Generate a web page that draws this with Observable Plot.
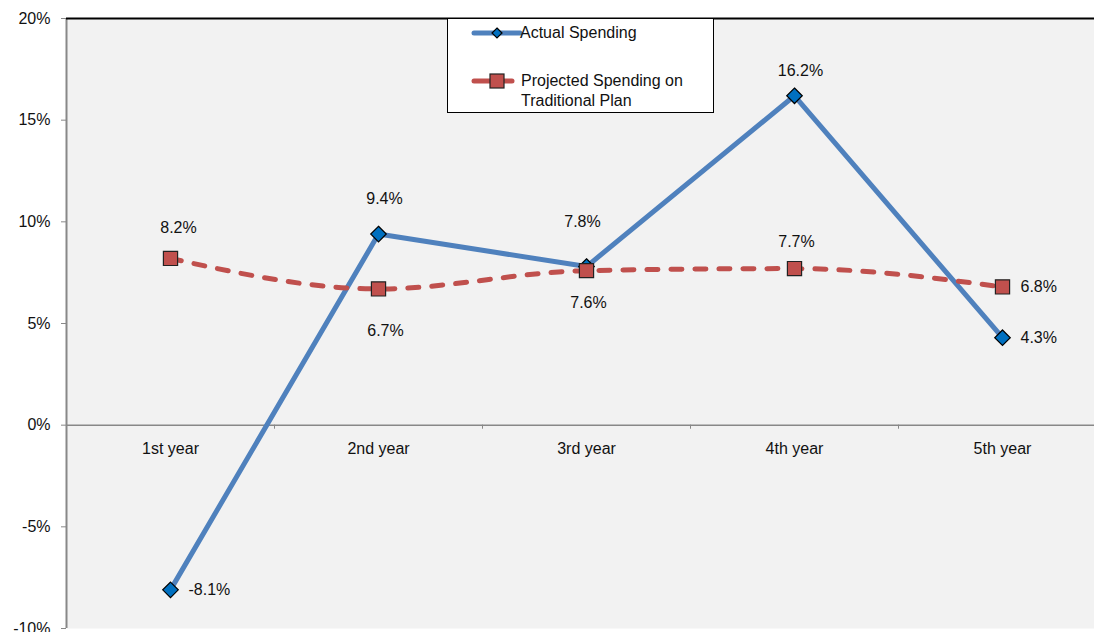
<!DOCTYPE html>
<html>
<head>
<meta charset="utf-8">
<script src="https://cdn.jsdelivr.net/npm/d3@7"></script>
<script src="https://cdn.jsdelivr.net/npm/@observablehq/plot@0.6"></script>
<style>
  html, body { margin: 0; padding: 0; background: #fff; overflow: hidden; }
  #wrap { position: relative; width: 1094px; height: 632px; overflow: hidden; font-family: "Liberation Sans", Arial, sans-serif; }
  #chart svg { max-width: none !important; }
  #legend { position: absolute; left: 447px; top: 18px; width: 267px; height: 95px; background: #fff; border: 1px solid #000; box-sizing: border-box; }
  #legend svg { position: absolute; left: 0; top: 0; }
  .lt { position: absolute; font-size: 16px; color: #111; line-height: 20px; }
</style>
</head>
<body>
<div id="wrap">
  <div id="chart"></div>
  <div id="legend">
    <svg width="266" height="94">
      <line x1="26" y1="14" x2="72" y2="14" stroke="#4f81bd" stroke-width="5" stroke-linecap="round"></line>
      <path d="M49,9 L54,14 L49,19 L44,14 Z" fill="#0070c0" stroke="#000" stroke-width="1.2"></path>
      <line x1="26" y1="62" x2="64" y2="62" stroke="#c0504d" stroke-width="5" stroke-linecap="round"></line>
      <rect x="42" y="55" width="14" height="14" fill="#c0504d" stroke="#222" stroke-width="1.2"></rect>
    </svg>
    <div class="lt" style="left:72px; top:4px;">Actual Spending</div>
    <div class="lt" style="left:73px; top:52px;">Projected Spending on<br>Traditional Plan</div>
  </div>
</div>
<script>
// ---- data ----
const categories = ["1st year", "2nd year", "3rd year", "4th year", "5th year"];
const actual = [-8.1, 9.4, 7.8, 16.2, 4.3];
const projected = [8.2, 6.7, 7.6, 7.7, 6.8];
const yTicks = [-10, -5, 0, 5, 10, 15, 20];

// ---- label layout (offsets in px, not data) ----
const actualLabelOffset = [[18, 0, "start"], [6, -35, "middle"], [-4, -45, "middle"], [6, -25, "middle"], [18, 0, "start"]];
const projectedLabelOffset = [[8, -31, "middle"], [7, 42, "middle"], [2, 32, "middle"], [2, -27, "middle"], [18, 0, "start"]];

const idx = (d, i) => i;
const fmt = v => v.toFixed(1) + "%";

function labels(values, offsets) {
  return values.map((v, i) => Plot.text([v], {
    x: () => i, y: d => d, text: fmt,
    dx: offsets[i][0], dy: offsets[i][1], textAnchor: offsets[i][2],
    fill: "#111", fontSize: 16
  }));
}

const chart = Plot.plot({
  width: 1106,
  height: 632,
  marginLeft: 66,
  marginRight: 0,
  marginTop: 18,
  marginBottom: 4,
  x: { domain: [-0.5, categories.length - 0.5], axis: null },
  y: { domain: [-10, 20], axis: null },
  style: { fontFamily: "Liberation Sans, Arial, sans-serif", fontSize: "16px", background: "transparent", overflow: "visible" },
  marks: [
    Plot.frame({ fill: "#f2f2f2", stroke: "none" }),
    Plot.axisY({ ticks: yTicks, tickFormat: d => d + "%", tickSize: 5, tickPadding: 11, stroke: "#888", fill: "#111", fontSize: 16 }),
    Plot.ruleY([0], { stroke: "#888", strokeWidth: 1.5 }),
    Plot.ruleX(categories.map((c, i) => i + 0.5), { y1: 0, y2: -0.2, stroke: "#888" }),
    Plot.ruleX([-0.5], { stroke: "#888", strokeWidth: 2 }),
    Plot.ruleY([20], { stroke: "#000", strokeWidth: 2 }),
    Plot.text(categories, { x: idx, y: () => 0, dy: 24, text: d => d, fill: "#111", fontSize: 16 }),
    Plot.line(actual, { x: idx, y: d => d, stroke: "#4f81bd", strokeWidth: 5, strokeLinejoin: "round" }),
    Plot.dot(actual, { x: idx, y: d => d, symbol: "diamond2", r: 7, fill: "#0070c0", stroke: "#000", strokeWidth: 1.2 }),
    Plot.line(projected, { x: idx, y: d => d, stroke: "#c0504d", strokeWidth: 5, strokeDasharray: "11,13", strokeLinecap: "round", curve: "monotone-x" }),
    Plot.dot(projected, { x: idx, y: d => d, symbol: "square", r: 8, fill: "#c0504d", stroke: "#222", strokeWidth: 1.2 }),
    ...labels(actual, actualLabelOffset),
    ...labels(projected, projectedLabelOffset)
  ]
});
chart.style.maxWidth = "none";
document.getElementById("chart").appendChild(chart);
</script>
</body>
</html>
